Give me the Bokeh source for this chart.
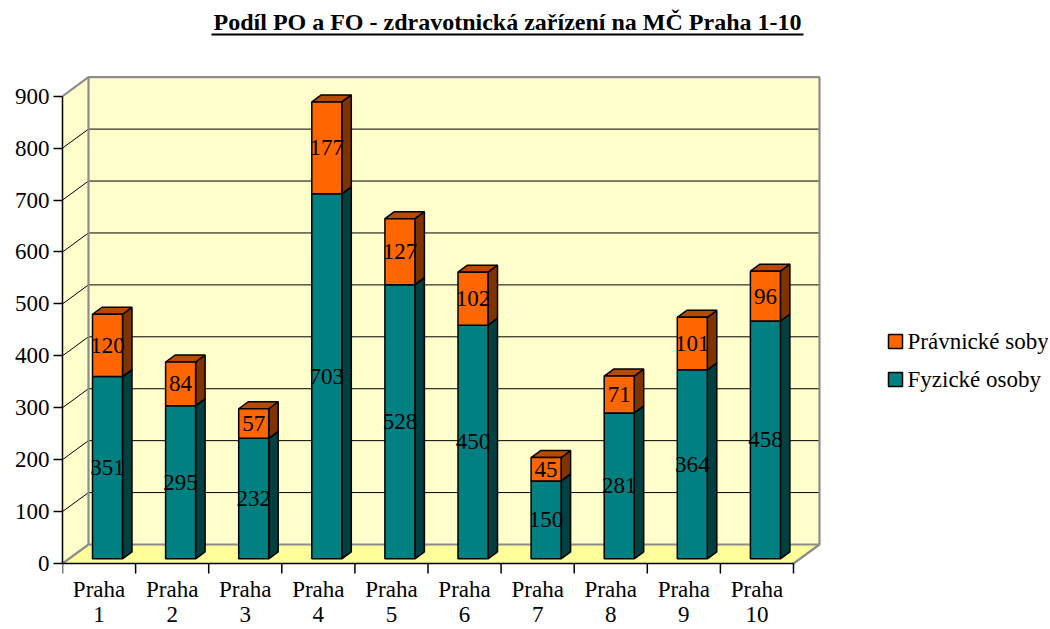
import numpy as np
from bokeh.plotting import figure
from bokeh.models import Range1d, FixedTicker
from bokeh.core.properties import value
from bokeh.embed import file_html
from bokeh.resources import INLINE

# ---------------- data ----------------
categories = ["Praha 1", "Praha 2", "Praha 3", "Praha 4", "Praha 5",
              "Praha 6", "Praha 7", "Praha 8", "Praha 9", "Praha 10"]
fyzicke_osoby = [351, 295, 232, 703, 528, 450, 150, 281, 364, 458]
pravnicke_soby = [120, 84, 57, 177, 127, 102, 45, 71, 101, 96]
y_ticks = [0, 100, 200, 300, 400, 500, 600, 700, 800, 900]
series_names = ["Právnické soby", "Fyzické osoby"]
title_text = "Podíl PO a FO - zdravotnická zařízení na MČ Praha 1-10"

# ---------------- layout / style constants (pixels) ----------------
W, H = 1048, 628
LEFT = 62          # canvas px of category 0 / value axis
BASE = 563         # canvas px of value 0
SX = 73.1          # px per category
SY = (563 - 95.7) / 900.0  # px per value unit
WALL_DX_PX, WALL_DY_PX = 26.0, 19.0
BAR_OFF_PX, BAR_W_PX, BAR_LIFT_PX = 30.0, 30.0, 4.7
BAR_DX_PX, BAR_DY_PX = 9.5, 7.0
FONT = value("Liberation Serif")
FS = "23px"

TEAL, TEAL_SIDE, TEAL_TOP = "#008080", "#004040", "#006060"
ORANGE, ORANGE_SIDE, ORANGE_TOP = "#FF6600", "#7F3300", "#B84A00"
WALL, FLOOR, EDGE = "#FFFFCC", "#FFFF99", "#8C8C8C"


def X(cx):
    return (cx - LEFT) / SX


def Y(cy):
    return (BASE - cy) / SY


p = figure(width=W, height=H, output_backend="svg", toolbar_location=None,
           x_axis_location=None, y_axis_location="left",
           x_range=Range1d(0, (W - LEFT) / SX),
           y_range=Range1d(-(H - BASE) / SY, BASE / SY),
           min_border_left=LEFT, min_border_right=0,
           min_border_top=0, min_border_bottom=0)
p.grid.visible = False
p.outline_line_color = None
p.background_fill_color = "white"
p.border_fill_color = "white"

n = len(categories)
ymax = y_ticks[-1]
DX = WALL_DX_PX / SX
DY = WALL_DY_PX / SY

# ---------------- walls & floor ----------------
p.patches(xs=[[0, 0, DX, DX], [DX, DX, n + DX, n + DX]],
          ys=[[0, ymax, ymax + DY, DY], [DY, ymax + DY, ymax + DY, DY]],
          fill_color=WALL, line_color=None)
p.patch(x=[0, n, n + DX, DX], y=[0, 0, DY, DY], fill_color=FLOOR, line_color=None)

# grid lines
gx, gy = [], []
for v in y_ticks[1:-1]:
    gx.append([DX, n + DX]); gy.append([v + DY, v + DY])
    gx.append([0, DX]); gy.append([v, v + DY])
p.multi_line(xs=gx, ys=gy, line_color="black", line_width=1)

# wall edges
p.multi_line(xs=[[DX, DX, n + DX, n + DX, DX], [0, DX], [0, DX], [n, n + DX]],
             ys=[[DY, ymax + DY, ymax + DY, DY, DY], [ymax, ymax + DY], [0, DY], [0, DY]],
             line_color=EDGE, line_width=2.2)

# category axis (line + boundary ticks)
tick_len = 10 / SY
p.segment(x0=[0], y0=[0], x1=[n], y1=[0], line_color="black", line_width=1.5)
p.segment(x0=list(range(n + 1)), y0=[0] * (n + 1), x1=list(range(n + 1)),
          y1=[-tick_len] * (n + 1), line_color="black", line_width=1.5)

# ---------------- bars ----------------
idx = np.arange(n)
x0 = idx + BAR_OFF_PX / SX
x1 = x0 + BAR_W_PX / SX
lift = BAR_LIFT_PX / SY
bdx = BAR_DX_PX / SX
bdy = BAR_DY_PX / SY

fy = np.array(fyzicke_osoby, dtype=float)
pr = np.array(pravnicke_soby, dtype=float)


def draw_segment(lo, hi, front, side, top, labels):
    fxs, fys, sxs, sys_, txs, tys = [], [], [], [], [], []
    for i in range(n):
        b, t = lo[i] + lift, hi[i] + lift
        fxs.append([x0[i], x1[i], x1[i], x0[i]]); fys.append([b, b, t, t])
        sxs.append([x1[i], x1[i] + bdx, x1[i] + bdx, x1[i]])
        sys_.append([b, b + bdy, t + bdy, t])
        txs.append([x0[i], x1[i], x1[i] + bdx, x0[i] + bdx])
        tys.append([t, t, t + bdy, t + bdy])
    p.patches(xs=sxs, ys=sys_, fill_color=side, line_color="black", line_width=1.5)
    p.patches(xs=txs, ys=tys, fill_color=top, line_color="black", line_width=1.5)
    p.patches(xs=fxs, ys=fys, fill_color=front, line_color="black", line_width=1.5)
    p.text(x=(x0 + x1) / 2, y=lift + (lo + hi) / 2, text=[str(v) for v in labels],
           text_font=FONT, text_font_size=FS, text_align="center",
           text_baseline="middle", text_color="black")


draw_segment(np.zeros(n), fy, TEAL, TEAL_SIDE, TEAL_TOP, fyzicke_osoby)
draw_segment(fy, fy + pr, ORANGE, ORANGE_SIDE, ORANGE_TOP, pravnicke_soby)

# ---------------- category labels ----------------
first = [c.split(" ")[0] for c in categories]
second = [c.split(" ")[1] for c in categories]
p.text(x=idx + 0.5, y=[Y(589)] * n, text=first, text_font=FONT, text_font_size=FS,
       text_align="center", text_baseline="middle", text_color="black")
p.text(x=idx + 0.5, y=[Y(614)] * n, text=second, text_font=FONT, text_font_size=FS,
       text_align="center", text_baseline="middle", text_color="black")

# ---------------- value axis ----------------
ax = p.yaxis[0]
ax.ticker = FixedTicker(ticks=y_ticks)
ax.bounds = (0, ymax)
ax.major_tick_out = 9
ax.major_tick_in = 0
ax.minor_tick_out = 0
ax.minor_tick_in = 0
ax.axis_line_color = "black"
ax.axis_line_width = 1.5
ax.major_tick_line_color = "black"
ax.major_tick_line_width = 1.5
ax.major_label_text_font = "Liberation Serif"
ax.major_label_text_font_size = FS
ax.major_label_text_color = "black"
ax.major_label_standoff = 4

# ---------------- title ----------------
p.text(x=[X(507)], y=[Y(21)], text=[title_text], text_font=FONT,
       text_font_style="bold", text_font_size="24px", text_align="center",
       text_baseline="middle", text_color="black")
p.segment(x0=[X(211)], y0=[Y(34)], x1=[X(803)], y1=[Y(34)], line_color="black", line_width=2)

# ---------------- legend ----------------
p.scatter(x=[X(895), X(895)], y=[Y(341), Y(379)], marker="square", size=14,
          fill_color=[ORANGE, TEAL], line_color="black", line_width=1.5)
p.text(x=[X(907), X(907)], y=[Y(341), Y(379)], text=series_names, text_font=FONT,
       text_font_size=FS, text_align="left", text_baseline="middle", text_color="black")

open("out.html", "w").write(file_html(p, INLINE))
